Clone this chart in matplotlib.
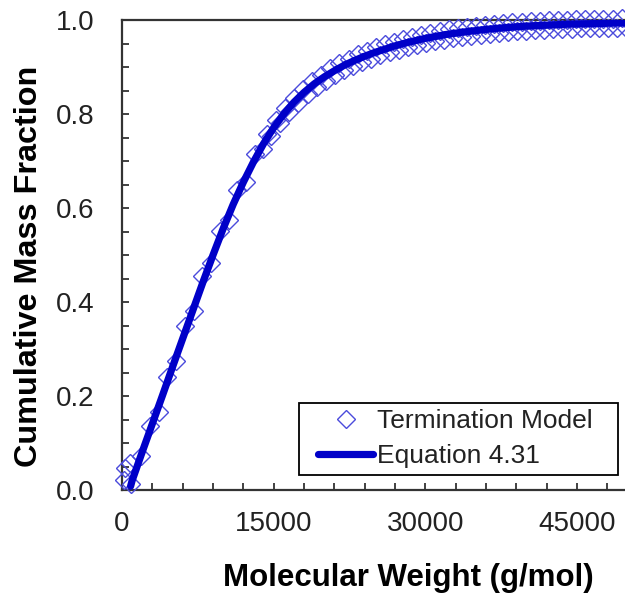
import numpy as np
import matplotlib.pyplot as plt
from matplotlib.ticker import MultipleLocator, FixedLocator
from matplotlib.patches import Rectangle

plt.rcParams['font.family'] = ['Liberation Sans', 'DejaVu Sans']

# termination model points (molecular weight, cumulative mass fraction)
model_mw = [200, 250, 760, 880, 1880, 2745, 3610, 4475, 5340, 6205, 7070, 7935, 8800,
            9665, 10530, 11395, 12260, 13125, 13990,
            14300, 14750, 15200, 15650, 16100, 16550, 17000, 17450, 17900, 18350,
            18800, 19250, 19700, 20150, 20600, 21050, 21500, 21950, 22400, 22850,
            23300, 23750, 24200, 24650, 25100, 25550, 26000, 26450, 26900, 27350,
            27800, 28250, 28700, 29150, 29600, 30050, 30500, 30950, 31400, 31850,
            32300, 32750, 33200, 33650, 34100, 34550, 35000, 35450, 35900, 36350,
            36800, 37250, 37700, 38150, 38600, 39050, 39500, 39950, 40400, 40850,
            41300, 41750, 42200, 42650, 43100, 43550, 44000, 44450, 44900, 45350,
            45800, 46250, 46700, 47150, 47600, 48050, 48500, 48950, 49400, 49850]
model_frac = [0.022, 0.047, 0.057, 0.012, 0.072, 0.137, 0.167, 0.241, 0.274, 0.350, 0.380,
              0.455, 0.484, 0.552, 0.575, 0.638, 0.655, 0.714, 0.726,
              0.757, 0.753, 0.787, 0.780, 0.812, 0.804, 0.835, 0.824, 0.854, 0.842,
              0.870, 0.858, 0.884, 0.871, 0.897, 0.883, 0.908, 0.893, 0.918, 0.902,
              0.927, 0.911, 0.935, 0.918, 0.942, 0.925, 0.948, 0.931, 0.954, 0.937,
              0.960, 0.942, 0.964, 0.947, 0.969, 0.951, 0.973, 0.955, 0.977, 0.958,
              0.980, 0.961, 0.983, 0.964, 0.985, 0.967, 0.988, 0.969, 0.990, 0.971,
              0.992, 0.972, 0.993, 0.974, 0.995, 0.976, 0.996, 0.977, 0.997, 0.978,
              0.998, 0.979, 0.999, 0.980, 1.000, 0.981, 1.001, 0.981, 1.002, 0.982,
              1.002, 0.982, 1.002, 0.983, 1.003, 0.983, 1.003, 0.984, 1.004, 0.984]

# equation 4.31 curve
eq_mw = [850, 1000, 2000, 3000, 4000, 5000, 6000, 7000, 8000, 9000, 10000, 11000,
         12000, 13000, 14000, 15000, 16000, 17000, 18000, 19000, 20000, 21000,
         22000, 23000, 24000, 25000, 26000, 27000, 28000, 29000, 30000, 32000,
         34000, 36000, 38000, 40000, 42000, 44000, 46000, 48000, 50000]
eq_frac = [0.008, 0.020, 0.081, 0.141, 0.201, 0.262, 0.322, 0.382, 0.442, 0.500, 0.556,
           0.608, 0.655, 0.698, 0.737, 0.771, 0.800, 0.825, 0.846, 0.864, 0.879,
           0.892, 0.904, 0.914, 0.923, 0.931, 0.938, 0.945, 0.951, 0.956, 0.961,
           0.969, 0.975, 0.980, 0.984, 0.987, 0.989, 0.991, 0.992, 0.993, 0.994]

W, H = 625, 594
fig = plt.figure(figsize=(W / 100, H / 100), dpi=100)
ax = fig.add_axes([122 / W, 1 - 490 / H, 505.7 / W, 470 / H])

ax.plot(model_mw, model_frac, linestyle='none', marker='D', markersize=9.5,
        markerfacecolor='none', markeredgecolor='#4b4bdc', markeredgewidth=1.0,
        label='Termination Model', clip_on=False, zorder=3)
ax.plot(eq_mw, eq_frac, color='#0000c8', linewidth=5.2, solid_capstyle='round',
        label='Equation 4.31', zorder=4)

ax.set_xlim(0, 50000)
ax.set_ylim(0, 1.0)

ax.xaxis.set_major_locator(FixedLocator([0, 15000, 30000, 45000]))
ax.xaxis.set_minor_locator(MultipleLocator(3000))
ax.yaxis.set_major_locator(MultipleLocator(0.2))
ax.yaxis.set_minor_locator(MultipleLocator(0.05))
ax.yaxis.set_major_formatter(plt.FuncFormatter(lambda v, p: f'{v:.1f}'))

for side in ['left', 'top', 'bottom']:
    ax.spines[side].set_linewidth(1.6)
    ax.spines[side].set_color('#333333')
ax.spines['right'].set_visible(False)

ax.tick_params(which='both', direction='in', length=5, width=1.3, color='#333333',
               top=False, right=False)
ax.tick_params(axis='y', which='major', pad=20, labelsize=20, labelcolor='#222222')
ax.tick_params(axis='x', which='major', pad=15, labelsize=20, labelcolor='#222222')

ax.set_xlabel('Molecular Weight (g/mol)', fontsize=22.5, fontweight='bold')
ax.set_ylabel('Cumulative Mass Fraction', fontsize=23.3, fontweight='bold')
ax.xaxis.set_label_coords(0.566, -0.155)
ax.yaxis.set_label_coords(-0.154, 0.475)

# legend box drawn separately so the padding can be set per side
ax.add_patch(Rectangle((299 / W, 1 - 475 / H), 319 / W, 72 / H, transform=fig.transFigure,
                       facecolor='white', edgecolor='black', linewidth=1.3,
                       clip_on=False, zorder=4.5))
leg = ax.legend(loc='upper left', bbox_to_anchor=(318 / W, 1 - 409 / H),
                bbox_transform=fig.transFigure, fontsize=19, frameon=False,
                handlelength=2.1, handletextpad=0.15, borderpad=0, labelspacing=0.42,
                borderaxespad=0)
leg.set_zorder(5)
for t in leg.get_texts():
    t.set_color('#222222')

fig.savefig('out.png', dpi=100)
